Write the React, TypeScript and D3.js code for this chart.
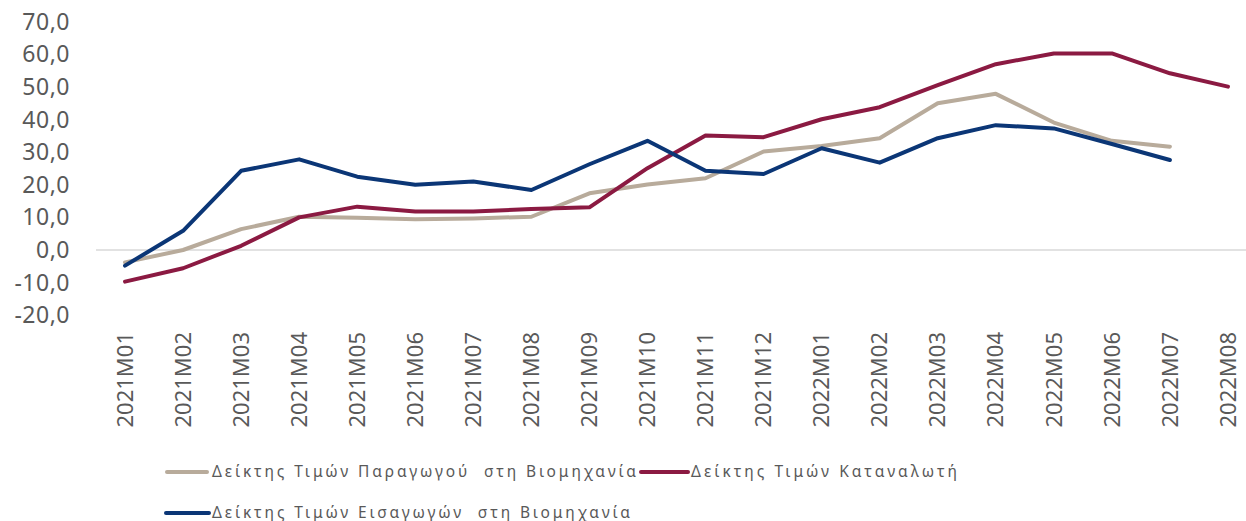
import React from "react";
import * as d3 from "d3";

const categories = [
  "2021M01", "2021M02", "2021M03", "2021M04", "2021M05", "2021M06", "2021M07",
  "2021M08", "2021M09", "2021M10", "2021M11", "2021M12", "2022M01", "2022M02",
  "2022M03", "2022M04", "2022M05", "2022M06", "2022M07", "2022M08",
];

const producerPrices: (number | null)[] = [
  -3.8, 0.0, 6.4, 10.2, 9.9, 9.4, 9.7, 10.2, 17.4, 20.1, 22.0, 30.2, 31.9, 34.3,
  45.0, 47.9, 39.1, 33.5, 31.7, null,
];
const consumerPrices: (number | null)[] = [
  -9.7, -5.6, 1.3, 10.0, 13.3, 11.8, 11.8, 12.6, 13.1, 25.1, 35.1, 34.6, 40.1,
  43.8, 50.6, 57.0, 60.3, 60.3, 54.2, 50.1,
];
const importPrices: (number | null)[] = [
  -4.8, 5.9, 24.3, 27.8, 22.5, 20.0, 21.0, 18.4, 26.3, 33.5, 24.3, 23.3, 31.2,
  26.8, 34.3, 38.3, 37.3, 32.5, 27.6, null,
];

const yTicks = [-20, -10, 0, 10, 20, 30, 40, 50, 60, 70];

const seriesNames = [
  "Δείκτης Τιμών Παραγωγού  στη Βιομηχανία",
  "Δείκτης Τιμών Καταναλωτή",
  "Δείκτης Τιμών Εισαγωγών  στη Βιομηχανία",
];
const seriesColors = ["#b8ab9b", "#8b1a42", "#0b3676"];

const W = 1246;
const H = 521;
const FONT = "'Noto Sans', 'DejaVu Sans', sans-serif";
const TEXT_COLOR = "#595959";

const locale = d3.formatLocale({
  decimal: ",",
  thousands: ".",
  grouping: [3],
  currency: ["", "€"],
  minus: "-",
});
const fmt = locale.format(".1f");

export default function App() {
  const x = d3.scaleBand<string>().domain(categories).range([96, 1257]).padding(0);
  const cx = (c: string) => (x(c) as number) + x.bandwidth() / 2;
  const y = d3.scaleLinear().domain([-20, 70]).range([315.2, 21.8]);

  const series = [producerPrices, consumerPrices, importPrices];
  const line = d3
    .line<number | null>()
    .defined((d) => d !== null)
    .x((_, i) => cx(categories[i]))
    .y((d) => y(d as number));

  const legendItems = [
    { x1: 167, x2: 207, ty: 472, tx: 212, len: 424 },
    { x1: 641, x2: 688, ty: 472, tx: 691, len: 266 },
    { x1: 166, x2: 209, ty: 513, tx: 212, len: 418 },
  ];

  return (
    <svg
      width={W}
      height={H}
      style={{ position: "absolute", left: 0, top: 0, background: "#fff" }}
      fontFamily={FONT}
    >
      <line x1={96} x2={1257} y1={y(0)} y2={y(0)} stroke="#d9d9d9" strokeWidth={1.5} />
      {yTicks.map((t) => (
        <text
          key={t}
          x={70}
          y={y(t)}
          dy="0.35em"
          textAnchor="end"
          fontSize={23}
          letterSpacing={0.5}
          fill={TEXT_COLOR}
        >
          {fmt(t)}
        </text>
      ))}
      {categories.map((c) => (
        <text
          key={c}
          transform={`translate(${cx(c)},${332}) rotate(-90)`}
          dy="0.35em"
          textAnchor="end"
          fontSize={22}
          fill={TEXT_COLOR}
        >
          {c}
        </text>
      ))}
      {series.map((s, i) => (
        <path
          key={i}
          d={line(s) as string}
          fill="none"
          stroke={seriesColors[i]}
          strokeWidth={4}
          strokeLinejoin="round"
          strokeLinecap="round"
        />
      ))}
      {legendItems.map((l, i) => (
        <g key={i}>
          <line
            x1={l.x1}
            x2={l.x2}
            y1={l.ty}
            y2={l.ty}
            stroke={seriesColors[i]}
            strokeWidth={4}
            strokeLinecap="round"
          />
          <text
            x={l.tx}
            y={l.ty}
            dy="0.35em"
            fontSize={15.5}
            fill={TEXT_COLOR}
            textLength={l.len}
            lengthAdjust="spacing"
            style={{ whiteSpace: "pre" }}
          >
            {seriesNames[i]}
          </text>
        </g>
      ))}
    </svg>
  );
}
